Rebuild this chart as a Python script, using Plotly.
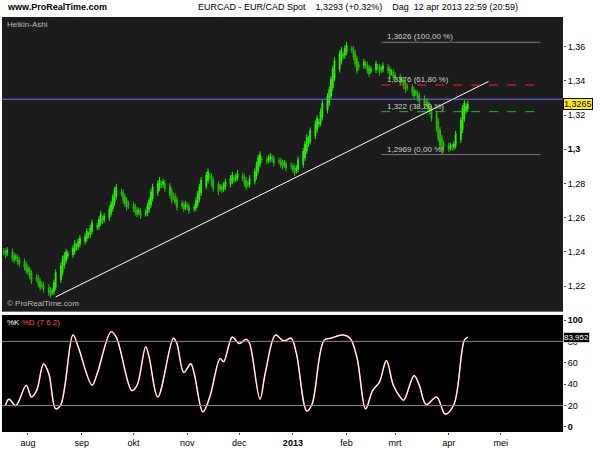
import pandas as pd
import plotly.graph_objects as go

ha_close = [1.240,1.238,1.241,1.236,1.235,1.237,1.234,1.233,1.231,1.229,
 1.228,1.226,1.223,1.224,1.221,1.219,1.220,1.218,1.216,1.215,1.217,1.222,1.228,1.232,1.236,1.238,1.240,1.239,1.242,1.245,1.243,1.246,1.248,
 1.249,1.252,1.250,1.254,1.257,1.255,1.259,1.262,1.258,1.261,1.265,1.268,1.272,1.276,1.278,1.274,1.270,1.268,1.266,1.267,
 1.265,1.263,1.262,1.264,1.261,1.263,1.267,1.270,1.275,1.278,1.280,1.282,1.279,1.281,1.277,1.273,1.270,1.272,1.269,1.266,1.267,1.265,1.268,
 1.266,1.264,1.266,1.270,1.274,1.278,1.282,1.285,1.287,1.284,1.280,1.277,1.275,1.278,1.276,1.279,1.281,1.283,1.285,1.282,1.284,1.286,
 1.283,1.280,1.278,1.279,1.283,1.287,1.291,1.295,1.297,1.294,1.293,1.295,1.296,1.294,1.292,1.293,1.291,1.290,1.292,1.289,1.290,
 1.288,1.286,1.289,1.294,1.299,1.303,1.307,1.306,1.311,1.315,1.318,1.316,1.322,1.327,1.331,1.335,1.341,1.347,1.352,1.356,1.358,1.355,1.359,
 1.361,1.358,1.354,1.350,1.346,1.348,1.351,1.349,1.346,1.344,1.347,1.350,1.348,1.345,1.347,1.349,1.346,1.343,1.345,1.342,
 1.341,1.339,1.340,1.337,1.335,1.336,1.333,1.331,1.333,1.330,1.328,1.326,1.327,1.324,1.322,1.318,1.312,1.306,1.302,1.300,1.301,
 1.300,1.302,1.301,1.303,1.309,1.317,1.324,1.327,1.325,1.3265]

stoch_dates = ["2012-07-19","2012-07-21","2012-07-25","2012-07-31","2012-08-03","2012-08-06","2012-08-10","2012-08-13",
 "2012-08-17","2012-08-20","2012-08-27","2012-08-30","2012-09-07","2012-09-10","2012-09-18","2012-09-21","2012-09-30",
 "2012-10-03","2012-10-08","2012-10-10","2012-10-15","2012-10-24","2012-10-26","2012-10-30","2012-11-03","2012-11-05",
 "2012-11-10","2012-11-14","2012-11-20","2012-11-22","2012-11-27","2012-12-01","2012-12-05","2012-12-07","2012-12-13",
 "2012-12-16","2012-12-22","2012-12-26","2012-12-28","2012-12-31","2013-01-03","2013-01-09","2013-01-12","2013-01-19",
 "2013-01-23","2013-01-30","2013-02-03","2013-02-07","2013-02-12","2013-02-16","2013-02-20","2013-02-24","2013-02-28",
 "2013-03-04","2013-03-06","2013-03-12","2013-03-15","2013-03-19","2013-03-25","2013-03-30","2013-04-04","2013-04-10","2013-04-12"]
stoch_k = [20,26,20,39,28,34,59,50,17,21,86,75,39,50,89,84,34,39,75,65,28,83,78,51,59,50,14,28,64,61,84,78,82,78,26,
 50,86,81,81,83,69,15,21,81,83,86,83,65,17,34,42,62,39,28,25,48,39,21,28,12,21,81,84]

month_ticks = ["2012-08-01","2012-09-01","2012-10-01","2012-11-01","2012-12-01","2013-01-01","2013-02-01","2013-03-01","2013-04-01","2013-05-01"]
month_labels = ["aug","sep","okt","nov","dec","<b>2013</b>","feb","mrt","apr","mei"]
price_ticks = [1.22,1.24,1.26,1.28,1.30,1.32,1.34,1.36]
price_labels = ["1,22","1,24","1,26","1,28","<b>1,3</b>","1,32","1,34","1,36"]
fib_levels = [1.3626,1.3376,1.322,1.2969]
fib_labels = ["1,3626 (100,00 %)","1,3376 (61,80 %)","1,322 (38,20 %)","1,2969 (0,00 %)"]
fib_colors = ["#777777","#ff2020","#20c020","#777777"]
fib_dash = ["solid","dash","dash","solid"]

dates = pd.bdate_range(end="2013-04-12", periods=len(ha_close))
ha_open = []
prev_o, prev_c = ha_close[0] + 0.001, ha_close[0]
for c in ha_close:
    o = (prev_o + prev_c) / 2
    ha_open.append(o)
    prev_o, prev_c = o, c
ha_high = [max(o, c) + 0.0018 for o, c in zip(ha_open, ha_close)]
ha_low = [min(o, c) - 0.0018 for o, c in zip(ha_open, ha_close)]

fig = go.Figure()
fig.add_trace(go.Candlestick(x=dates, open=ha_open, high=ha_high, low=ha_low, close=ha_close,
    increasing=dict(line=dict(color="#22ee00", width=1), fillcolor="#99ff55"),
    decreasing=dict(line=dict(color="#22bb00", width=1), fillcolor="#22bb00"),
    whiskerwidth=0, xaxis="x", yaxis="y", showlegend=False))
fig.add_trace(go.Scatter(x=["2012-08-17","2013-04-24"], y=[1.2136,1.3397], mode="lines",
    line=dict(color="white", width=1), xaxis="x", yaxis="y", showlegend=False))
for lv, col, d in zip(fib_levels, fib_colors, fib_dash):
    fig.add_trace(go.Scatter(x=["2013-02-21","2013-05-24"], y=[lv, lv], mode="lines",
        line=dict(color=col, width=1, dash=d), xaxis="x", yaxis="y", showlegend=False))
fig.add_trace(go.Scatter(x=stoch_dates, y=stoch_k, mode="lines", line=dict(color="#ff4040", width=1.6, shape="spline"),
    xaxis="x2", yaxis="y2", showlegend=False))
fig.add_trace(go.Scatter(x=stoch_dates, y=stoch_k, mode="lines", line=dict(color="white", width=1.2, shape="spline"),
    xaxis="x2", yaxis="y2", showlegend=False))

xr = ["2012-07-17","2013-06-06"]
fig.update_layout(
    width=600, height=450, margin=dict(l=2, r=37, t=17, b=18),
    paper_bgcolor="white", plot_bgcolor="#1c1c1c", separators=",.",
    font=dict(family="Liberation Sans", size=9, color="black"),
    xaxis=dict(domain=[0,1], anchor="y", range=xr, showticklabels=False, showgrid=False,
               rangeslider=dict(visible=False), zeroline=False),
    yaxis=dict(domain=[0.29,1], range=[1.205,1.3774], side="right", tickvals=price_ticks, ticktext=price_labels,
               showgrid=False, ticks="outside", ticklen=2, zeroline=False),
    xaxis2=dict(domain=[0,1], anchor="y2", range=xr, tickvals=month_ticks, ticktext=month_labels,
                showgrid=False, ticks="outside", ticklen=2, zeroline=False),
    yaxis2=dict(domain=[0,0.282], range=[-4.7,104.7], side="right", tickvals=[0,20,40,60,80,100],
                ticktext=["<b>0</b>","20","40","60","80","<b>100</b>"], showgrid=False, ticks="outside", ticklen=2, zeroline=False),
    shapes=[
        dict(type="rect", xref="x2 domain", yref="y2 domain", x0=0, x1=1, y0=0, y1=1, fillcolor="black", line_width=0, layer="below"),
        dict(type="line", xref="x domain", yref="y", x0=0, x1=1, y0=1.3293, y1=1.3293, line=dict(color="#7070ff", width=1)),
        dict(type="line", xref="x2 domain", yref="y2", x0=0, x1=1, y0=20, y1=20, line=dict(color="#888888", width=1)),
        dict(type="line", xref="x2 domain", yref="y2", x0=0, x1=1, y0=80, y1=80, line=dict(color="#888888", width=1)),
    ],
)
for lv, lb in zip(fib_levels, fib_labels):
    fig.add_annotation(x="2013-02-23", y=lv, text=lb, xref="x", yref="y", showarrow=False,
        xanchor="left", yanchor="bottom", yshift=-1, font=dict(size=8, color="#cccccc"))
extra = [
    dict(xref="paper", yref="paper", x=0.005, y=1.04, yanchor="top", showarrow=False, xanchor="left",
         text="<b>www.ProRealTime.com</b>", font=dict(size=9)),
    dict(xref="paper", yref="paper", x=0.345, y=1.04, yanchor="top", showarrow=False, xanchor="left",
         text="EURCAD - EUR/CAD Spot    1,3293 (+0,32%)    Dag  12 apr 2013 22:59 (20:59)", font=dict(size=9)),
    dict(xref="x domain", yref="y domain", x=0.005, y=0.995, xanchor="left", yanchor="top", showarrow=False,
         text="Heikin-Ashi", font=dict(size=8, color="#bbbbbb")),
    dict(xref="x domain", yref="y domain", x=0.005, y=0.005, xanchor="left", yanchor="bottom", showarrow=False,
         text="© ProRealTime.com", font=dict(size=8, color="#bbbbbb")),
    dict(xref="x2 domain", yref="y2 domain", x=0.005, y=0.99, xanchor="left", yanchor="top", showarrow=False,
         text="<span style='color:white'>%K</span> <span style='color:#ff5050'>%D (7 6 2)</span>", font=dict(size=8)),
    dict(xref="paper", yref="y", x=1.0, y=1.3265, xanchor="left", showarrow=False,
         text="1,3265", font=dict(size=9, color="black"), bgcolor="#ffee00", bordercolor="black", borderwidth=1, borderpad=0),
    dict(xref="paper", yref="y2", x=1.0, y=84, xanchor="left", showarrow=False,
         text="83,952", font=dict(size=8, color="white"), bgcolor="black", bordercolor="#cccccc", borderwidth=1, borderpad=0),
]
for a in extra:
    fig.add_annotation(**a)
fig.write_html("out.html", config={"displayModeBar": False},
               post_script="document.body.style.margin='0';document.body.style.overflow='hidden';")
